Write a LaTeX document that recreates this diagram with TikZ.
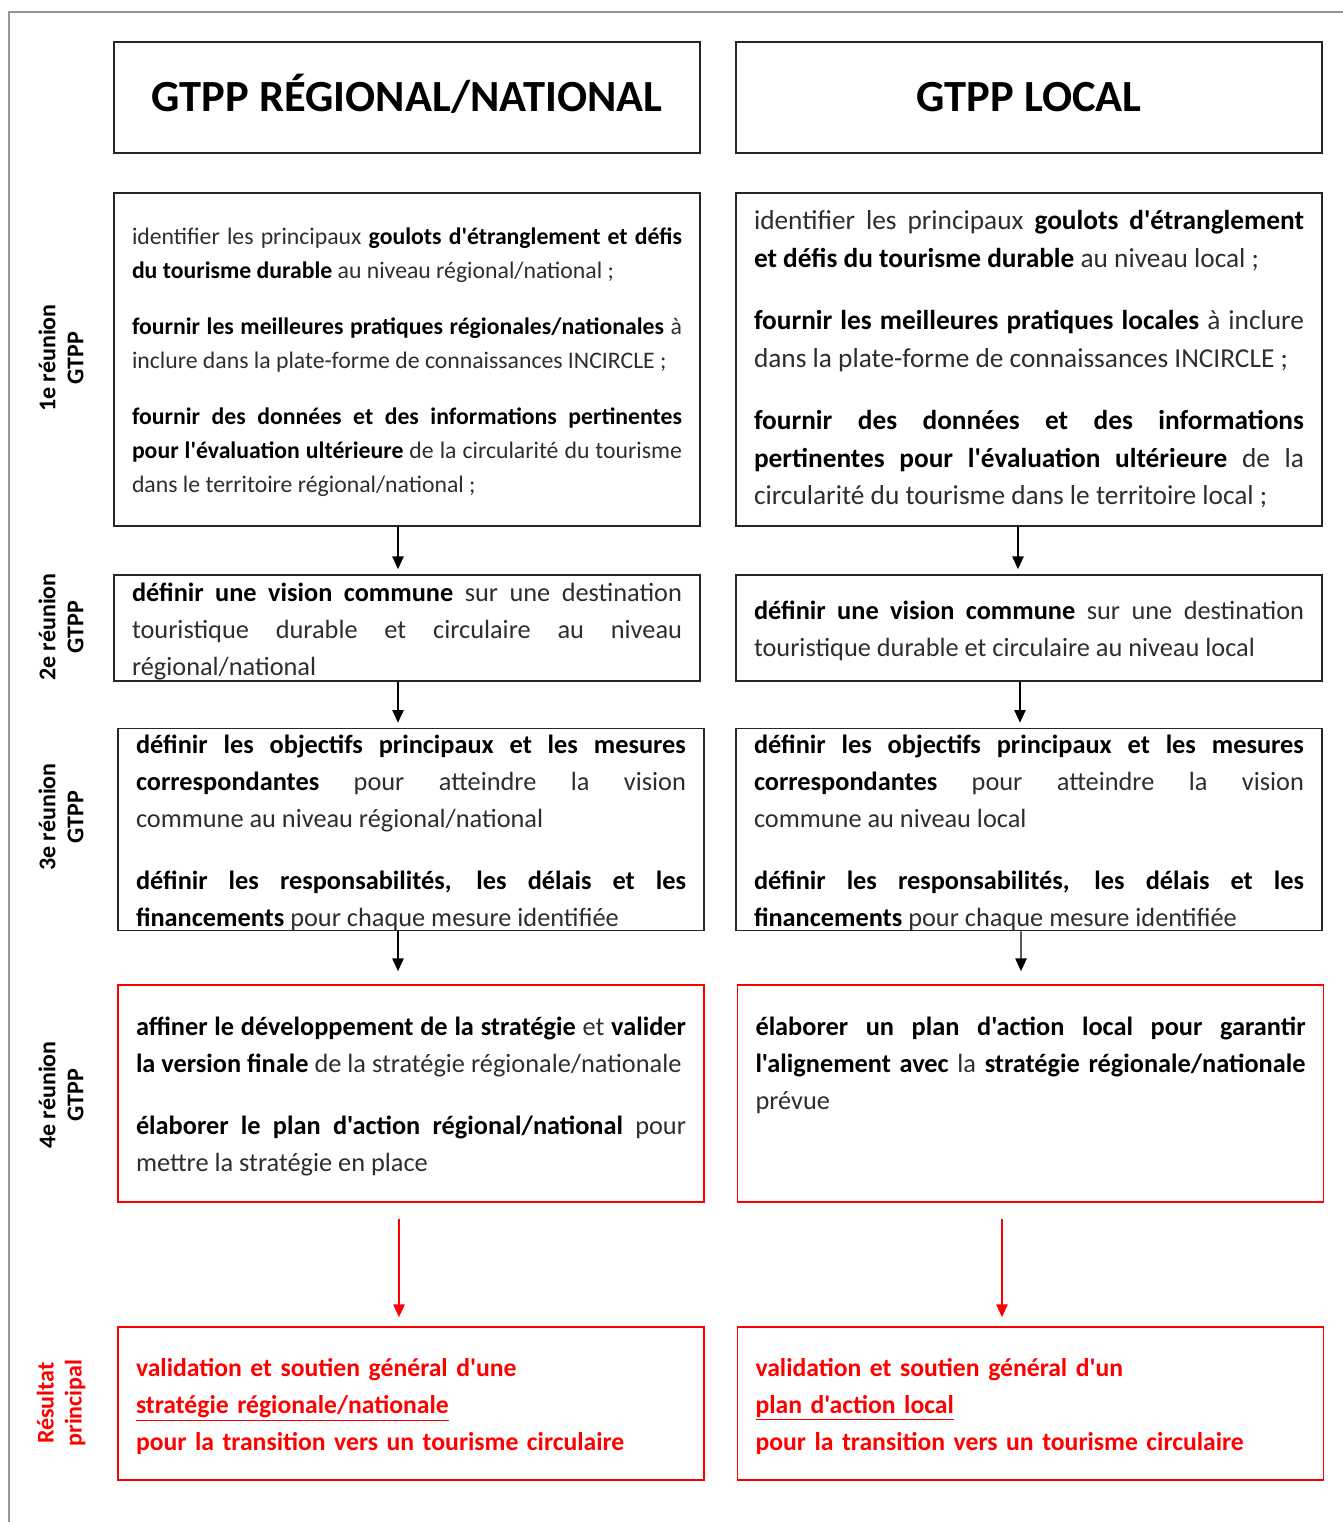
\documentclass[tikz,border=0pt]{standalone}
\usepackage{fontspec}
\setmainfont{Carlito}[Ligatures=TeXOff]
\usetikzlibrary{arrows.meta}
\definecolor{frame}{RGB}{150,150,150}
\definecolor{txt}{RGB}{45,45,45}
\hyphenpenalty=10000
\exhyphenpenalty=10000
\tolerance=9999
\newcommand{\bodyfont}{\fontsize{19.75}{27.8}\selectfont}
\newcommand{\bigbody}{\fontsize{20.5}{28.2}\selectfont}
\newcommand{\smallbody}{\fontsize{17.8}{25.5}\selectfont}
\newcommand{\bb}[1]{\textbf{\color{black}#1}}
\newcommand{\topgap}{\rule{0pt}{0.94em}}
\tikzset{
  plain/.style={draw=black!85,line width=1.3pt,minimum width=439.5pt,inner xsep=13.5pt,inner ysep=0pt,
    text width=412.5pt,align=justify,text=txt,font=\bodyfont},
  box/.style={plain,execute at begin node=\topgap},
  redbox/.style={box,draw=red},
  result/.style={redbox,minimum height=114.75pt,align=left,text=red,font=\bfseries\fontsize{19.25}{27.8}\selectfont},
  head/.style={draw=black!85,line width=1.3pt,minimum width=439.5pt,minimum height=83.25pt,
    text height=21.5pt,text depth=0pt,font=\bfseries\fontsize{33.4}{40}\selectfont},
  lbl/.style={rotate=90,align=center,font=\bfseries\fontsize{18}{21}\selectfont},
  arr/.style={line width=1pt,-{Triangle[width=8.5pt,length=9.5pt]}},
}

\begin{document}
\begin{tikzpicture}[x=0.75pt,y=-0.75pt]
\useasboundingbox (0,0) rectangle (1343,1522);
\draw [frame,line width=1.5pt] (9,1522) -- (9,12) -- (1343,12);
% titles
\node[head] (hl) at (407,97.5) {GTPP RÉGIONAL/NATIONAL};
\node[head] (hr) at (1029,97.5) {GTPP LOCAL};
% row labels
\node[lbl] (l1) at (61,358) {1e réunion\\GTPP};
\node[lbl] (l2) at (61,627) {2e réunion\\GTPP};
\node[lbl] (l3) at (61,817) {3e réunion\\GTPP};
\node[lbl] (l4) at (61,1095) {4e réunion\\GTPP};
\node[lbl,text=red] (l5) at (61,1403) {Résultat\\principal};
% 1e reunion
\node[box,font=\smallbody,minimum height=249.75pt] (b1l) at (407,359.5) {identifier les principaux \bb{goulots d'étranglement et défis du tourisme durable} au niveau régional/national ;\\[16.5pt]
\bb{fournir les meilleures pratiques régionales/nationales} à inclure dans la plate-forme de connaissances INCIRCLE ;\\[16.5pt]
\bb{fournir des données et des informations pertinentes pour l'évaluation ultérieure} de la circularité du tourisme dans le territoire régional/national ;};
\node[plain,font=\bigbody,minimum height=249.75pt] (b1r) at (1029,359.5) {identifier les principaux \bb{goulots d'étranglement et défis du tourisme durable} au niveau local ;\\[18.5pt]
\bb{fournir les meilleures pratiques locales} à inclure dans la plate-forme de connaissances INCIRCLE ;\\[18.5pt]
\bb{fournir des données et des informations pertinentes pour l'évaluation ultérieure} de la circularité du tourisme dans le territoire local ;};
% 2e reunion
\node[box,minimum height=79.5pt] (b2l) at (407,628) {\bb{définir une vision commune} sur une destination touristique durable et circulaire au niveau régional/national};
\node[box,minimum height=79.5pt] (b2r) at (1029,628) {\bb{définir une vision commune} sur une destination touristique durable et circulaire au niveau local};
% 3e reunion
\node[box,minimum height=150.75pt] (b3l) at (411,829.5) {\bb{définir les objectifs principaux et les mesures correspondantes} pour atteindre la vision\linebreak commune au niveau régional/national\\[18.5pt]
\bb{définir les responsabilités, les délais et les financements} pour chaque mesure identifiée};
\node[box,minimum height=150.75pt] (b3r) at (1029,829.5) {\bb{définir les objectifs principaux et les mesures correspondantes} pour atteindre la vision\linebreak commune au niveau local\\[18.5pt]
\bb{définir les responsabilités, les délais et les financements} pour chaque mesure identifiée};
% 4e reunion
\node[redbox,minimum height=162.75pt] (b4l) at (411,1093.5) {\bb{affiner le développement de la stratégie} et \bb{valider la version finale} de la stratégie régionale/nationale\\[18.5pt]
\bb{élaborer le plan d'action régional/national} pour mettre la stratégie en place};
\node[redbox,minimum height=162.75pt] (b4r) at (1030.5,1093.5) {\bb{élaborer un plan d'action local pour garantir l'alignement avec} la \bb{stratégie régionale/nationale} prévue\\[18.5pt]\rule[-4pt]{0pt}{4pt}};
% resultat
\node[result] (b5l) at (411,1403.5) {validation et soutien général d'une\\\underline{stratégie régionale/nationale}\\pour la transition vers un tourisme circulaire};
\node[result] (b5r) at (1030.5,1403.5) {validation et soutien général d'un\\\underline{plan d'action local}\\pour la transition vers un tourisme circulaire};
% arrows
\draw[arr] ([xshift=-6.75pt]b1l.south) -- ([xshift=-6.75pt]b2l.north) [shorten >=3.75pt];
\draw[arr] ([xshift=-6.75pt]b2l.south) -- ([xshift=-9.75pt]b3l.north) [shorten >=3.75pt];
\draw[arr] ([xshift=-9.75pt]b3l.south) -- ([xshift=-9.75pt]b4l.north) [shorten >=9.75pt];
\draw[arr,red,shorten <=12pt,shorten >=6.75pt] ([xshift=-9pt]b4l.south) -- ([xshift=-9pt]b5l.north);
\draw[arr] ([xshift=-8.25pt]b1r.south) -- ([xshift=-8.25pt]b2r.north) [shorten >=3.75pt];
\draw[arr] ([xshift=-6.75pt]b2r.south) -- ([xshift=-6.75pt]b3r.north) [shorten >=3.75pt];
\draw[arr] ([xshift=-6pt]b3r.south) -- ([xshift=-7.1pt]b4r.north) [shorten >=9.75pt];
\draw[arr,red,shorten <=12pt,shorten >=6.75pt] ([xshift=-21.4pt]b4r.south) -- ([xshift=-21.4pt]b5r.north);
\end{tikzpicture}
\end{document}
